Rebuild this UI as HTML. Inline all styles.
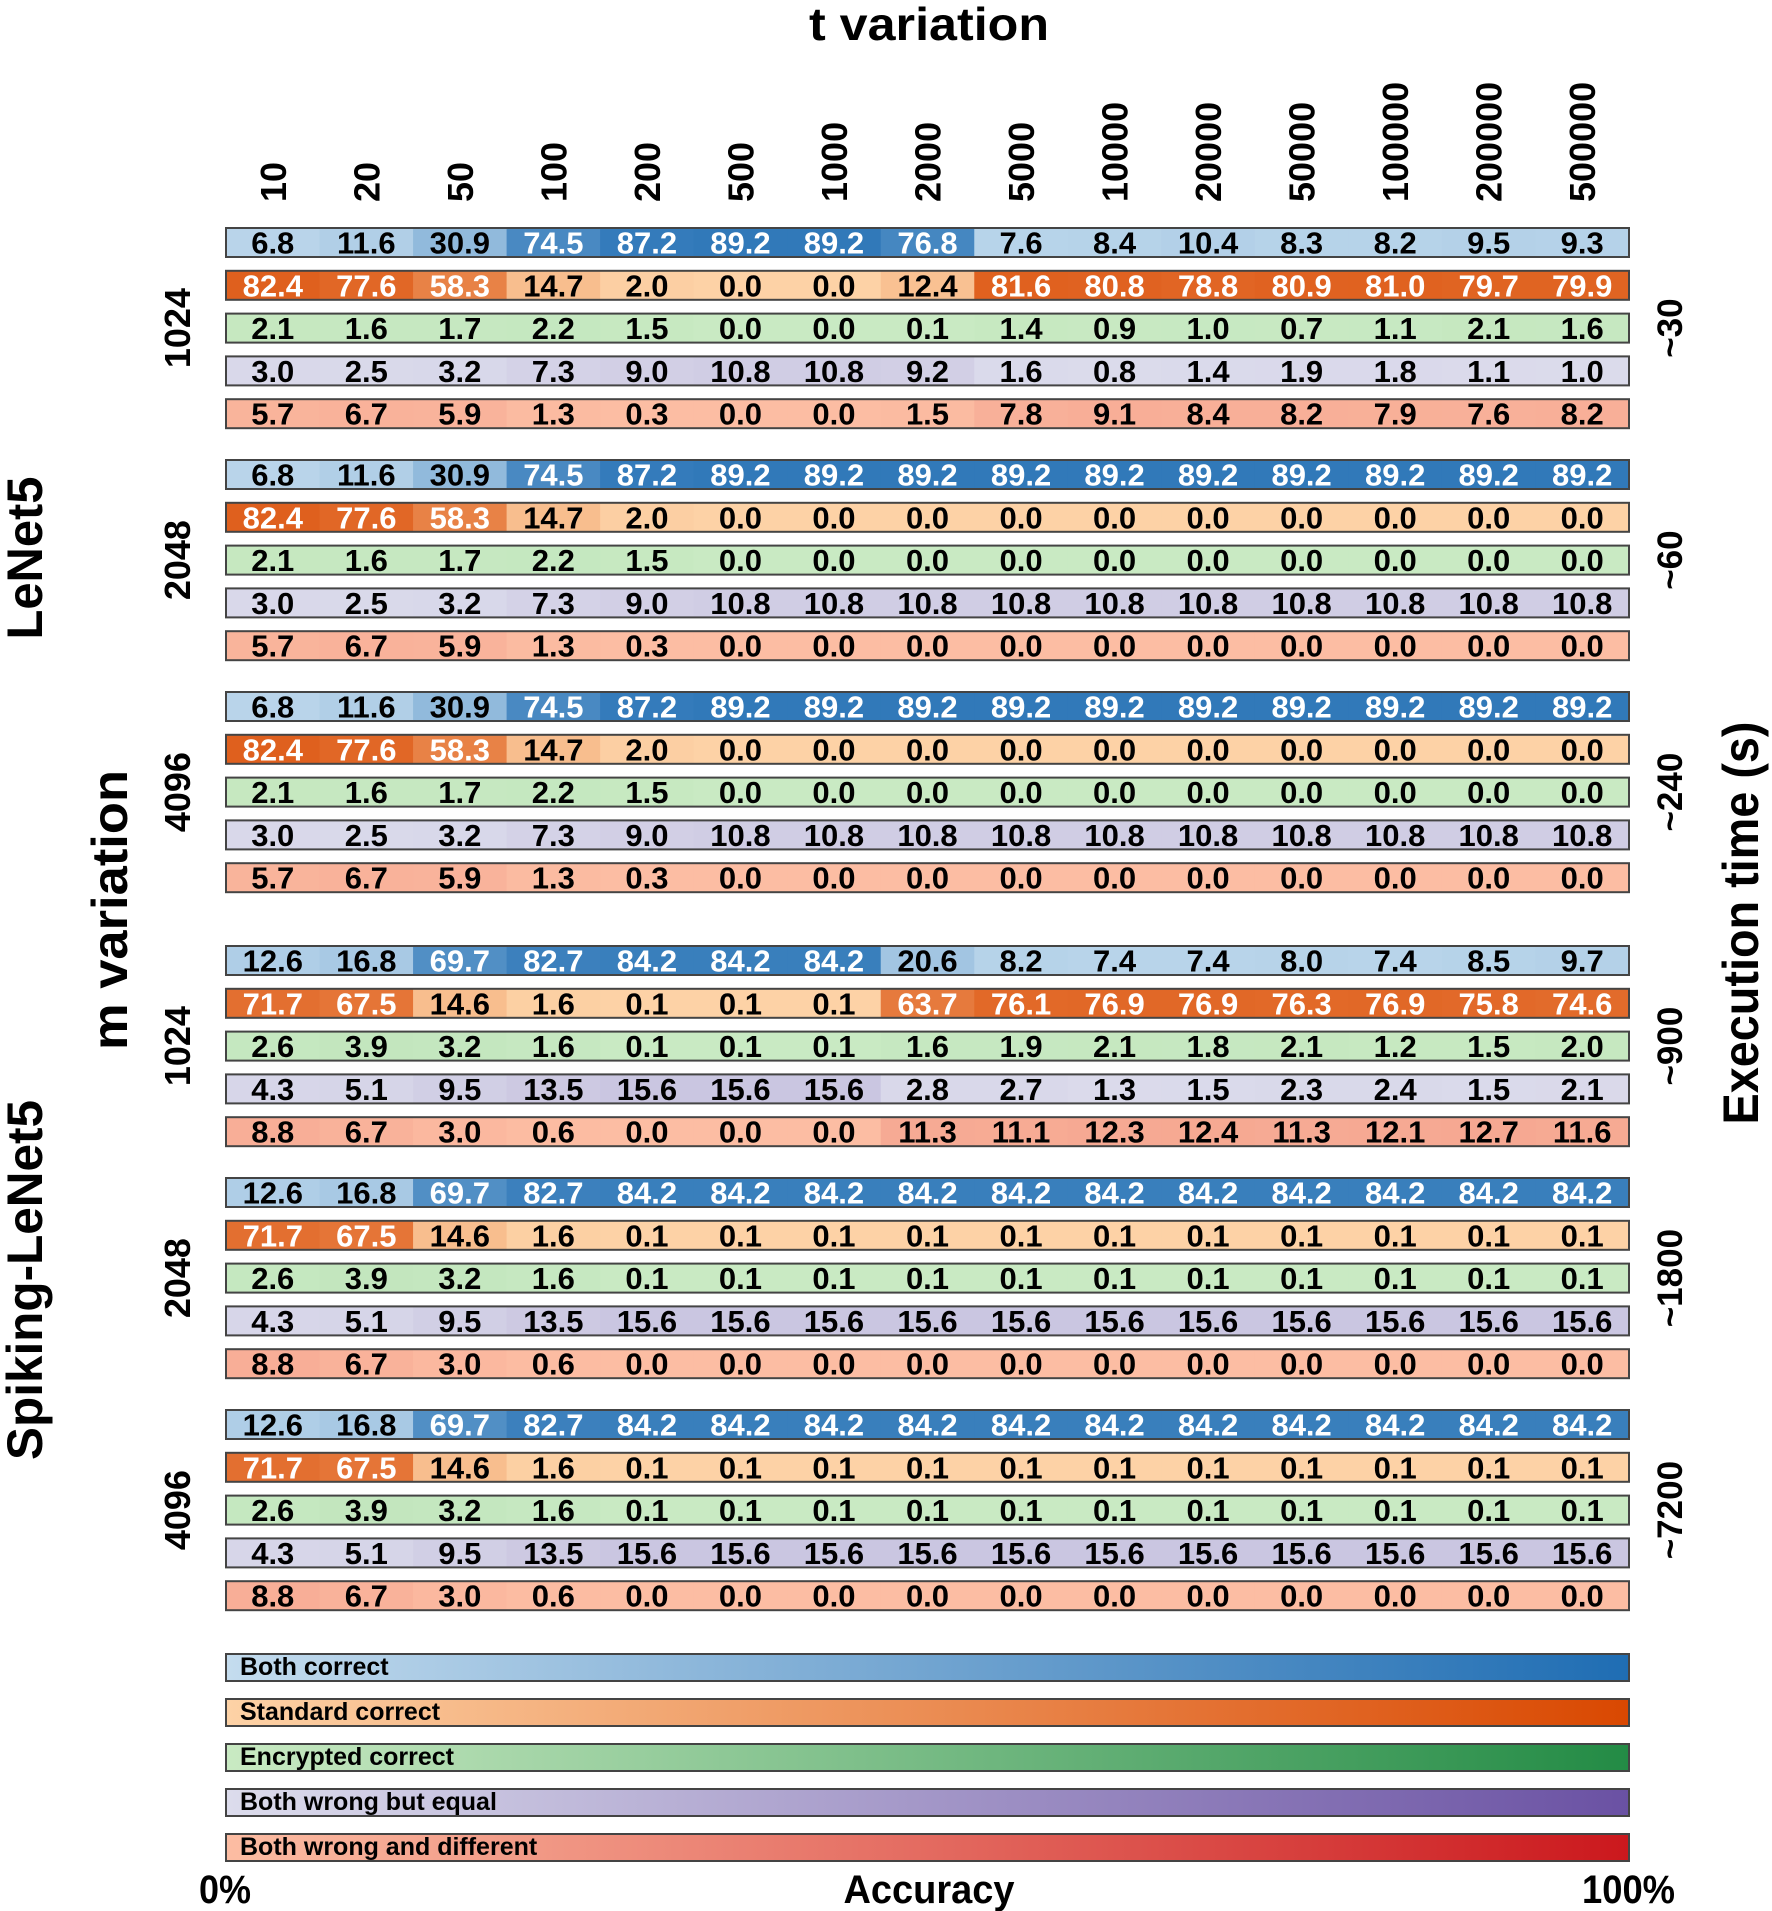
<!DOCTYPE html>
<html><head><meta charset="utf-8"><style>
html,body{margin:0;padding:0;background:#fff;}
svg{display:block;font-family:"Liberation Sans",Arial,sans-serif;font-weight:bold;}
</style></head><body>
<svg id="chart" width="1772" height="1911" viewBox="0 0 1772 1911" xmlns="http://www.w3.org/2000/svg">
<text x="929" y="40" text-anchor="middle" font-size="46" textLength="240" lengthAdjust="spacingAndGlyphs">t variation</text>
<text transform="translate(42,558) rotate(-90)" text-anchor="middle" font-size="50" textLength="163" lengthAdjust="spacingAndGlyphs">LeNet5</text>
<text transform="translate(42,1280) rotate(-90)" text-anchor="middle" font-size="50" textLength="360" lengthAdjust="spacingAndGlyphs">Spiking-LeNet5</text>
<text transform="translate(127,910) rotate(-90)" text-anchor="middle" font-size="50" textLength="280" lengthAdjust="spacingAndGlyphs">m variation</text>
<text transform="translate(1758,923) rotate(-90)" text-anchor="middle" font-size="50" textLength="403" lengthAdjust="spacingAndGlyphs">Execution time (s)</text>
<text x="929" y="1903" text-anchor="middle" font-size="40" textLength="171" lengthAdjust="spacingAndGlyphs">Accuracy</text>
<text x="199" y="1903" font-size="40" textLength="52" lengthAdjust="spacingAndGlyphs">0%</text>
<text x="1582" y="1903" font-size="40" textLength="93" lengthAdjust="spacingAndGlyphs">100%</text>
<g id="cells"></g>
</svg>
<script>
const tValues = ["10","20","50","100","200","500","1000","2000","5000","10000","20000","50000","100000","200000","500000"];
const mLabels = ["1024","2048","4096","1024","2048","4096"];
const timeLabels = ["~30","~60","~240","~900","~1800","~7200"];
const categories = ["Both correct","Standard correct","Encrypted correct","Both wrong but equal","Both wrong and different"];
const lenet1024 = [
[6.8,11.6,30.9,74.5,87.2,89.2,89.2,76.8,7.6,8.4,10.4,8.3,8.2,9.5,9.3],
[82.4,77.6,58.3,14.7,2.0,0.0,0.0,12.4,81.6,80.8,78.8,80.9,81.0,79.7,79.9],
[2.1,1.6,1.7,2.2,1.5,0.0,0.0,0.1,1.4,0.9,1.0,0.7,1.1,2.1,1.6],
[3.0,2.5,3.2,7.3,9.0,10.8,10.8,9.2,1.6,0.8,1.4,1.9,1.8,1.1,1.0],
[5.7,6.7,5.9,1.3,0.3,0.0,0.0,1.5,7.8,9.1,8.4,8.2,7.9,7.6,8.2]];
const lenet2048 = [
[6.8,11.6,30.9,74.5,87.2,89.2,89.2,89.2,89.2,89.2,89.2,89.2,89.2,89.2,89.2],
[82.4,77.6,58.3,14.7,2.0,0.0,0.0,0.0,0.0,0.0,0.0,0.0,0.0,0.0,0.0],
[2.1,1.6,1.7,2.2,1.5,0.0,0.0,0.0,0.0,0.0,0.0,0.0,0.0,0.0,0.0],
[3.0,2.5,3.2,7.3,9.0,10.8,10.8,10.8,10.8,10.8,10.8,10.8,10.8,10.8,10.8],
[5.7,6.7,5.9,1.3,0.3,0.0,0.0,0.0,0.0,0.0,0.0,0.0,0.0,0.0,0.0]];
const lenet4096 = [
[6.8,11.6,30.9,74.5,87.2,89.2,89.2,89.2,89.2,89.2,89.2,89.2,89.2,89.2,89.2],
[82.4,77.6,58.3,14.7,2.0,0.0,0.0,0.0,0.0,0.0,0.0,0.0,0.0,0.0,0.0],
[2.1,1.6,1.7,2.2,1.5,0.0,0.0,0.0,0.0,0.0,0.0,0.0,0.0,0.0,0.0],
[3.0,2.5,3.2,7.3,9.0,10.8,10.8,10.8,10.8,10.8,10.8,10.8,10.8,10.8,10.8],
[5.7,6.7,5.9,1.3,0.3,0.0,0.0,0.0,0.0,0.0,0.0,0.0,0.0,0.0,0.0]];
const spiking1024 = [
[12.6,16.8,69.7,82.7,84.2,84.2,84.2,20.6,8.2,7.4,7.4,8.0,7.4,8.5,9.7],
[71.7,67.5,14.6,1.6,0.1,0.1,0.1,63.7,76.1,76.9,76.9,76.3,76.9,75.8,74.6],
[2.6,3.9,3.2,1.6,0.1,0.1,0.1,1.6,1.9,2.1,1.8,2.1,1.2,1.5,2.0],
[4.3,5.1,9.5,13.5,15.6,15.6,15.6,2.8,2.7,1.3,1.5,2.3,2.4,1.5,2.1],
[8.8,6.7,3.0,0.6,0.0,0.0,0.0,11.3,11.1,12.3,12.4,11.3,12.1,12.7,11.6]];
const spiking2048 = [
[12.6,16.8,69.7,82.7,84.2,84.2,84.2,84.2,84.2,84.2,84.2,84.2,84.2,84.2,84.2],
[71.7,67.5,14.6,1.6,0.1,0.1,0.1,0.1,0.1,0.1,0.1,0.1,0.1,0.1,0.1],
[2.6,3.9,3.2,1.6,0.1,0.1,0.1,0.1,0.1,0.1,0.1,0.1,0.1,0.1,0.1],
[4.3,5.1,9.5,13.5,15.6,15.6,15.6,15.6,15.6,15.6,15.6,15.6,15.6,15.6,15.6],
[8.8,6.7,3.0,0.6,0.0,0.0,0.0,0.0,0.0,0.0,0.0,0.0,0.0,0.0,0.0]];
const spiking4096 = [
[12.6,16.8,69.7,82.7,84.2,84.2,84.2,84.2,84.2,84.2,84.2,84.2,84.2,84.2,84.2],
[71.7,67.5,14.6,1.6,0.1,0.1,0.1,0.1,0.1,0.1,0.1,0.1,0.1,0.1,0.1],
[2.6,3.9,3.2,1.6,0.1,0.1,0.1,0.1,0.1,0.1,0.1,0.1,0.1,0.1,0.1],
[4.3,5.1,9.5,13.5,15.6,15.6,15.6,15.6,15.6,15.6,15.6,15.6,15.6,15.6,15.6],
[8.8,6.7,3.0,0.6,0.0,0.0,0.0,0.0,0.0,0.0,0.0,0.0,0.0,0.0,0.0]];
const groups = [lenet1024,lenet2048,lenet4096,spiking1024,spiking2048,spiking4096];

const NS = "http://www.w3.org/2000/svg";
const X0 = 226, X1 = 1629, COLW = (X1 - X0) / tValues.length;
const ROWH = 29, ROWP = 42.8;
const groupTops = [228, 460, 692, 946, 1178, 1410];
const ramps = [["#c4dcee","#1f6db3"],["#fdd2a6","#d94801"],["#c9eac3","#238b45"],["#dcdcec","#6a51a3"],["#fcbda3","#cb181d"]];
function hex(c){return [1,3,5].map(i=>parseInt(c.substr(i,2),16));}
function colorScale(k, v){
  const a = hex(ramps[k][0]), b = hex(ramps[k][1]), t = Math.max(0, Math.min(1, v / 100));
  return "rgb(" + a.map((x,i)=>Math.round(x + (b[i]-x)*t)).join(",") + ")";
}
function xScale(i){return X0 + i * COLW;}
function yScale(g, r){return groupTops[g] + r * ROWP;}
function mk(tag, attrs){const e = document.createElementNS(NS, tag); for (const k in attrs) e.setAttribute(k, attrs[k]); return e;}
const root = document.getElementById("cells");

tValues.forEach((t, i) => {
  const cx = xScale(i) + COLW / 2;
  const el = mk("text", {transform: "translate(" + (cx + 13) + ",202) rotate(-90)", "font-size": "36"});
  
  
  el.textContent = t;
  root.appendChild(el);
});

groups.forEach((grp, g) => {
  const midY = groupTops[g] + (4 * ROWP + ROWH) / 2;
  const ml = mk("text", {transform: "translate(190," + midY + ") rotate(-90)", "text-anchor": "middle", "font-size": "36"});
  
  
  ml.textContent = mLabels[g];
  root.appendChild(ml);
  const tl = mk("text", {transform: "translate(1682," + midY + ") rotate(-90)", "text-anchor": "middle", "font-size": "35"});
  
  
  tl.textContent = timeLabels[g];
  root.appendChild(tl);
  grp.forEach((row, r) => {
    const y = yScale(g, r);
    row.forEach((v, i) => {
      const x = xScale(i);
      const rect = mk("rect", {x: x, y: y, width: COLW + 0.6, height: ROWH, fill: colorScale(r, v)});
      
      
      root.appendChild(rect);
      const tx = mk("text", {x: x + COLW / 2, y: y + ROWH / 2 + 11, "text-anchor": "middle", "font-size": "31", fill: v > 50 ? "#fff" : "#000"});
      
      
      tx.textContent = v.toFixed(1);
      root.appendChild(tx);
    });
    const fr = mk("rect", {x: X0, y: y, width: X1 - X0, height: ROWH, fill: "none", stroke: "#444", "stroke-width": "2"});
    
    
    root.appendChild(fr);
  });
});

const defs = mk("defs", {});
root.appendChild(defs);
categories.forEach((c, k) => {
  const gid = "grad" + k;
  const lg = mk("linearGradient", {id: gid, x1: "0", x2: "1", y1: "0", y2: "0"});
  lg.appendChild(mk("stop", {offset: "0", "stop-color": ramps[k][0]}));
  lg.appendChild(mk("stop", {offset: "1", "stop-color": ramps[k][1]}));
  defs.appendChild(lg);
  const y = 1654 + k * 45;
  const bar = mk("rect", {x: X0, y: y, width: X1 - X0, height: 27, fill: "url(#" + gid + ")", stroke: "#444", "stroke-width": "2"});
  
  
  root.appendChild(bar);
  const lt = mk("text", {x: 240, y: y + 21, "font-size": "25"});
  
  
  lt.textContent = c;
  root.appendChild(lt);
});
</script>
</body></html>
